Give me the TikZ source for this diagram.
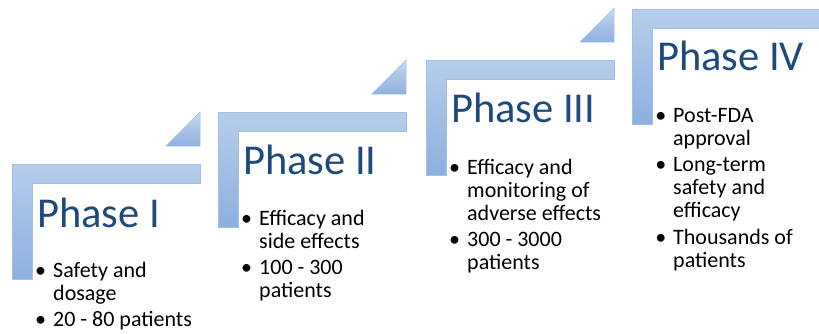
\documentclass[tikz,border=0pt]{standalone}
\usepackage{fontspec}
\setmainfont{Carlito}
\definecolor{ttl}{HTML}{1F497D}
\definecolor{bartop}{HTML}{B6CEEC}
\definecolor{barbot}{HTML}{8BB0DF}
\definecolor{edgeblue}{HTML}{A3BFE3}
\definecolor{tritop}{HTML}{C5D8F0}
\definecolor{tribot}{HTML}{8EB0DE}
\tikzset{
  corner/.style={top color=bartop,bottom color=barbot,draw=edgeblue,line width=0.5pt},
  wedge/.style={top color=tritop,bottom color=tribot,draw=edgeblue,line width=0.5pt},
  phasetitle/.style={anchor=base west,inner sep=0pt,text=ttl,font=\fontsize{42.5}{46}\selectfont},
  body/.style={anchor=base west,inner sep=0pt,align=left,font=\fontsize{22}{23}\selectfont},
}
\newcommand\bul{\llap{\textbullet\hspace{7pt}}}
\newcommand\cornershape[2]{%
  \path[corner] (#1,#2) -- ++(188,0) -- ++(0,19) -- ++(-168,0) -- ++(0,96) -- ++(-20,0) -- cycle;}
\newcommand\wedgeshape[2]{%
  \path[wedge] (#1+188,#2-18) -- ++(-34,0) -- ++(34,-34) -- cycle;}
\begin{document}
\begin{tikzpicture}[x=1pt,y=-1pt]
\useasboundingbox (0,0) rectangle (819,333);
% Phase I
\cornershape{12}{164}
\wedgeshape{12}{164}
\node[phasetitle] (t1) at (37,227) {Phase I};
% anchor = baseline of the last line
\node[body] (b1) at (53,326.5) {\bul Safety and\\dosage\\[3.5pt]\bul 20 - 80 patients};
% Phase II
\cornershape{218}{112}
\wedgeshape{218}{112}
\node[phasetitle] (t2) at (243,174) {Phase II};
\node[body] (b2) at (259,297.5) {\bul Efficacy and\\side effects\\[3.5pt]\bul 100 - 300\\patients};
% Phase III
\cornershape{426}{60}
\wedgeshape{426}{60}
\node[phasetitle] (t3) at (451,122) {Phase III};
\node[body] (b3) at (467,269.5) {\bul Efficacy and\\monitoring of\\adverse effects\\[3.5pt]\bul 300 - 3000\\patients};
% Phase IV
\cornershape{632}{9}
\node[phasetitle] (t4) at (657,70) {Phase IV};
\node[body] (b4) at (673,267) {\bul Post-FDA\\approval\\[3.5pt]\bul Long-term\\safety and\\efficacy\\[3.5pt]\bul Thousands of\\patients};
\end{tikzpicture}
\end{document}
